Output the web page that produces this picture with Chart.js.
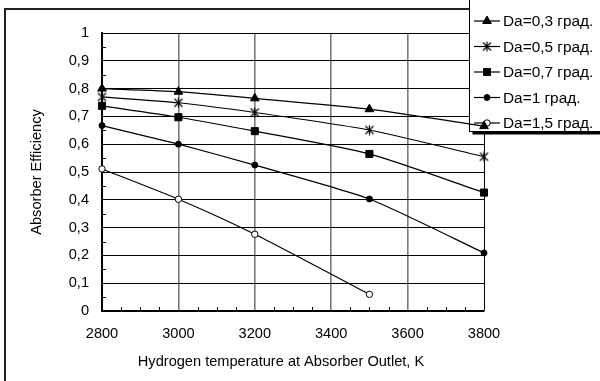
<!DOCTYPE html>
<html lang="en">
<head>
    <meta charset="UTF-8">
    <title>Absorber Efficiency</title>
    <script src="https://cdn.jsdelivr.net/npm/chart.js"></script>
    <style>
        html, body { margin: 0; padding: 0; background: #fff; }
        #wrap { width: 600px; height: 381px; }
    </style>
</head>
<body>
    <div id="wrap"><canvas id="chart" width="600" height="381"></canvas></div>

    <script>
        // Data
        const temps = [2800, 3000, 3200, 3500, 3800];
        const da03 = [0.80, 0.789, 0.765, 0.726, 0.665];
        const da05 = [0.77, 0.749, 0.714, 0.651, 0.555];
        const da07 = [0.738, 0.697, 0.647, 0.565, 0.426];
        const da1 = [0.667, 0.60, 0.525, 0.403, 0.209];
        const da15 = [0.511, 0.402, 0.276, 0.06];
        const seriesLabels = ['Da=0,3 град.', 'Da=0,5 град.', 'Da=0,7 град.', 'Da=1 град.', 'Da=1,5 град.'];
        const xTitle = 'Hydrogen temperature at Absorber Outlet, K';

        const FONT = { family: '"Liberation Sans", Arial, sans-serif', size: 14.6 };

        // X with a vertical bar marker
        function starMarker() {
            const c = document.createElement('canvas');
            c.width = 11; c.height = 11;
            const g = c.getContext('2d');
            g.strokeStyle = '#000';
            g.lineWidth = 1.2;
            g.beginPath();
            g.moveTo(1.5, 1.5); g.lineTo(9.5, 9.5);
            g.moveTo(9.5, 1.5); g.lineTo(1.5, 9.5);
            g.moveTo(5.5, 0.5); g.lineTo(5.5, 10.5);
            g.stroke();
            return c;
        }

        const toPoints = arr => arr.map((v, i) => ({ x: temps[i], y: v }));

        const styles = [
            { pointStyle: 'triangle', pointRadius: 5, pointBackgroundColor: '#000' },
            { pointStyle: starMarker(), pointRadius: 5, pointBackgroundColor: '#000' },
            { pointStyle: 'rect', pointRadius: 5, pointBackgroundColor: '#000' },
            { pointStyle: 'circle', pointRadius: 3, pointBackgroundColor: '#000' },
            { pointStyle: 'circle', pointRadius: 3.2, pointBackgroundColor: '#fff' }
        ];
        const values = [da03, da05, da07, da1, da15];

        const datasets = values.map((vals, i) => Object.assign({
            label: seriesLabels[i],
            data: toPoints(vals),
            borderColor: '#000',
            borderWidth: 1.2,
            pointBorderColor: '#000',
            pointBorderWidth: 1,
            tension: 0.2,
            clip: false,
            fill: false
        }, styles[i]));

        // outer frame + white background + x title
        const framePlugin = {
            id: 'frame',
            beforeDraw(chart) {
                const ctx = chart.ctx;
                ctx.save();
                ctx.fillStyle = '#fff';
                ctx.fillRect(0, 0, chart.width, chart.height);
                ctx.strokeStyle = '#222';
                ctx.lineWidth = 2;
                ctx.beginPath();
                ctx.moveTo(5, chart.height);
                ctx.lineTo(5, 9);
                ctx.lineTo(chart.width, 9);
                ctx.stroke();

                ctx.fillStyle = '#000';
                ctx.font = FONT.size + 'px ' + FONT.family;
                ctx.textAlign = 'center';
                ctx.textBaseline = 'middle';
                ctx.fillText(xTitle, 281, 362);
                ctx.restore();
            }
        };

        // small inward tick marks between grid lines
        const minorTicks = {
            id: 'minorTicks',
            beforeDatasetsDraw(chart) {
                const { ctx, chartArea, scales } = chart;
                ctx.save();
                ctx.strokeStyle = '#000';
                ctx.lineWidth = 1;
                ctx.beginPath();
                for (let v = 0.05; v < 1; v += 0.1) {
                    const y = Math.round(scales.y.getPixelForValue(v)) + 0.5;
                    ctx.moveTo(chartArea.left, y);
                    ctx.lineTo(chartArea.left + 4, y);
                }
                for (let t = 2850; t < 3800; t += 50) {
                    if (t % 200 === 0) continue;
                    const x = Math.round(scales.x.getPixelForValue(t)) + 0.5;
                    ctx.moveTo(x, chartArea.bottom);
                    ctx.lineTo(x, chartArea.bottom - 4);
                }
                ctx.stroke();
                ctx.restore();
            }
        };

        // legend box at the top right
        const legendBox = {
            id: 'legendBox',
            beforeDatasetsDraw(chart) {
                const ctx = chart.ctx;
                const left = 469.5, top = -2, bottom = 131.5, right = chart.width + 5;
                ctx.save();
                ctx.fillStyle = '#000';
                ctx.fillRect(left + 3, bottom, right - left, 3);
                ctx.fillStyle = '#fff';
                ctx.fillRect(left, top, right - left, bottom - top);
                ctx.strokeStyle = '#000';
                ctx.lineWidth = 1;
                ctx.strokeRect(left, top, right - left, bottom - top);

                ctx.font = '15.4px ' + FONT.family;
                ctx.textBaseline = 'middle';
                chart.data.datasets.forEach((ds, i) => {
                    const y = 21 + i * 25.5;
                    ctx.strokeStyle = '#000';
                    ctx.lineWidth = 1.2;
                    ctx.beginPath();
                    ctx.moveTo(474, y);
                    ctx.lineTo(500, y);
                    ctx.stroke();
                    ctx.fillStyle = ds.pointBackgroundColor;
                    ctx.lineWidth = 1;
                    Chart.helpers.drawPoint(ctx, {
                        pointStyle: ds.pointStyle,
                        radius: ds.pointRadius,
                        rotation: 0,
                        borderWidth: 1
                    }, 487, y);
                    ctx.fillStyle = '#000';
                    ctx.fillText(ds.label, 503, y + 1);
                });
                ctx.restore();
            }
        };

        new Chart(document.getElementById('chart'), {
            type: 'line',
            data: { datasets: datasets },
            options: {
                responsive: false,
                animation: false,
                layout: { padding: { left: 0, right: 116, top: 33, bottom: 0 } },
                plugins: { legend: { display: false }, tooltip: { enabled: false } },
                scales: {
                    x: {
                        type: 'linear',
                        min: 2800,
                        max: 3800,
                        afterFit: s => { s.height = 70; },
                        ticks: {
                            stepSize: 200,
                            color: '#000',
                            font: FONT,
                            padding: 14,
                            maxRotation: 0,
                            callback: v => String(v)
                        },
                        grid: {
                            drawTicks: false,
                            color: c => (c.tick && c.tick.value === 3800) ? '#000' : '#7a7a7a',
                            lineWidth: c => (c.tick && c.tick.value === 3800) ? 1 : 1.6
                        },
                        border: { color: '#000', width: 2 },
                        title: { display: false }
                    },
                    y: {
                        min: 0,
                        max: 1,
                        afterFit: s => { s.width = 102; },
                        ticks: {
                            stepSize: 0.1,
                            color: '#000',
                            font: FONT,
                            padding: 13,
                            callback: v => String(Math.round(v * 10) / 10).replace('.', ',')
                        },
                        grid: { drawTicks: false, color: '#000', lineWidth: 1 },
                        border: { color: '#000', width: 2 },
                        title: {
                            display: true,
                            text: 'Absorber Efficiency',
                            color: '#000',
                            font: FONT,
                            padding: { top: 28, bottom: 0 }
                        }
                    }
                }
            },
            plugins: [framePlugin, legendBox, minorTicks]
        });
    </script>
</body>
</html>
